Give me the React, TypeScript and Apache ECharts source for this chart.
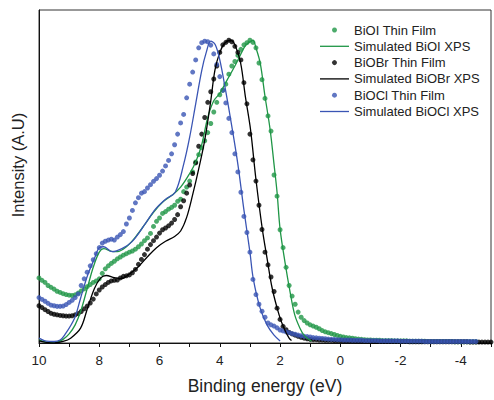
import React, { useEffect, useRef } from "react";
import * as echarts from "echarts";

// Binding energy grid of the measured thin-film spectra (eV)
const energies = [
  10.0, 9.9, 9.8, 9.7, 9.6, 9.5, 9.4, 9.3, 9.2, 9.1,
  9.0, 8.9, 8.8, 8.7, 8.6, 8.5, 8.4, 8.3, 8.2, 8.1,
  8.0, 7.9, 7.8, 7.7, 7.6, 7.5, 7.4, 7.3, 7.2, 7.1,
  7.0, 6.9, 6.8, 6.7, 6.6, 6.5, 6.4, 6.3, 6.2, 6.1,
  6.0, 5.9, 5.8, 5.7, 5.6, 5.5, 5.4, 5.3, 5.2, 5.1,
  5.0, 4.9, 4.8, 4.7, 4.6, 4.5, 4.4, 4.3, 4.2, 4.1,
  4.0, 3.9, 3.8, 3.7, 3.6, 3.5, 3.4, 3.3, 3.2, 3.1,
  3.0, 2.9, 2.8, 2.7, 2.6, 2.5, 2.4, 2.3, 2.2, 2.1,
  2.0, 1.9, 1.8, 1.7, 1.6, 1.5, 1.4, 1.3, 1.2, 1.1,
  1.0, 0.9, 0.8, 0.7, 0.6, 0.5, 0.4, 0.3, 0.2, 0.1,
  0.0, -0.1, -0.2, -0.3, -0.4, -0.5, -0.6, -0.7, -0.8, -0.9,
  -1.0, -1.1, -1.2, -1.3, -1.4, -1.5, -1.6, -1.7, -1.8, -1.9,
  -2.0, -2.1, -2.2, -2.3, -2.4, -2.5, -2.6, -2.7, -2.8, -2.9,
  -3.0, -3.1, -3.2, -3.3, -3.4, -3.5, -3.6, -3.7, -3.8, -3.9,
  -4.0, -4.1, -4.2, -4.3, -4.4, -4.5, -4.6, -4.7, -4.8, -4.9,
  -5.0,
];

// BiOI thin film (normalised intensity)
const bioiFilm = [
  0.215, 0.207, 0.2, 0.19, 0.184, 0.178, 0.171, 0.167, 0.163, 0.16,
  0.158, 0.157, 0.159, 0.165, 0.172, 0.179, 0.186, 0.193, 0.2, 0.205,
  0.212, 0.23, 0.245, 0.255, 0.263, 0.27, 0.278, 0.284, 0.29, 0.295,
  0.3, 0.304, 0.31, 0.318, 0.327, 0.338, 0.347, 0.362, 0.385, 0.402,
  0.413, 0.428, 0.434, 0.442, 0.448, 0.455, 0.468, 0.475, 0.5, 0.515,
  0.535, 0.565, 0.598, 0.622, 0.645, 0.668, 0.695, 0.725, 0.763, 0.795,
  0.82, 0.835, 0.855, 0.888, 0.915, 0.93, 0.95, 0.97, 0.985, 0.992,
  1.0, 0.993, 0.975, 0.925, 0.87, 0.808, 0.75, 0.7, 0.555, 0.485,
  0.374, 0.315, 0.25, 0.19, 0.155, 0.128, 0.102, 0.085, 0.074, 0.066,
  0.06, 0.056, 0.052, 0.047, 0.041, 0.037, 0.034, 0.031, 0.028, 0.025,
  0.022, 0.02, 0.018, 0.017, 0.016, 0.014, 0.013, 0.012, 0.011, 0.01,
  0.01, 0.009, 0.009, 0.009, 0.008, 0.008, 0.008, 0.008, 0.007, 0.007,
  0.007, 0.007, 0.007, 0.006, 0.006, 0.006, 0.006, 0.006, 0.006, 0.005,
  0.005, 0.005, 0.005, 0.005, 0.005, 0.005, 0.005, 0.005, 0.004, 0.004,
  0.004, 0.004, 0.004, 0.004, 0.004, 0.004,
];

// BiOBr thin film
const biobrFilm = [
  0.123, 0.117, 0.11, 0.104, 0.098, 0.095, 0.093, 0.091, 0.09, 0.089,
  0.089, 0.09, 0.093, 0.097, 0.104, 0.113, 0.122, 0.132, 0.145, 0.162,
  0.175, 0.185, 0.193, 0.2, 0.205, 0.207, 0.208, 0.215, 0.22, 0.222,
  0.225, 0.232, 0.243, 0.26, 0.276, 0.292, 0.31, 0.325, 0.338, 0.35,
  0.363, 0.374, 0.38, 0.387, 0.396, 0.408, 0.424, 0.45, 0.47, 0.495,
  0.522, 0.56, 0.595, 0.65, 0.69, 0.745, 0.795, 0.83, 0.872, 0.915,
  0.96, 0.985, 0.993, 1.0, 0.995, 0.98, 0.96, 0.935, 0.86, 0.79,
  0.69, 0.605, 0.535, 0.455, 0.375, 0.3, 0.258, 0.218, 0.17, 0.115,
  0.078, 0.055, 0.044, 0.035, 0.03, 0.026, 0.022, 0.019, 0.016, 0.014,
  0.012, 0.011, 0.011, 0.01, 0.01, 0.009, 0.009, 0.009, 0.008, 0.008,
  0.008, 0.007, 0.007, 0.007, 0.007, 0.006, 0.006, 0.006, 0.006, 0.006,
  0.006, 0.005, 0.005, 0.005, 0.005, 0.005, 0.005, 0.005, 0.005, 0.005,
  0.005, 0.005, 0.005, 0.004, 0.004, 0.004, 0.004, 0.004, 0.004, 0.004,
  0.004, 0.004, 0.004, 0.004, 0.004, 0.004, 0.004, 0.004, 0.004, 0.004,
  0.004, 0.004, 0.004, 0.003, 0.003, 0.003, 0.003, 0.003, 0.003, 0.003,
  0.003,
];

// BiOCl thin film
const bioclFilm = [
  0.15, 0.144, 0.138, 0.131, 0.125, 0.123, 0.121, 0.121, 0.122, 0.127,
  0.134, 0.141, 0.15, 0.162, 0.19, 0.212, 0.234, 0.255, 0.275, 0.295,
  0.315, 0.33, 0.336, 0.34, 0.343, 0.34, 0.35, 0.358, 0.368, 0.393,
  0.413, 0.438, 0.463, 0.48, 0.495, 0.5, 0.512, 0.523, 0.534, 0.543,
  0.554, 0.568, 0.585, 0.603, 0.625, 0.655, 0.69, 0.727, 0.755, 0.81,
  0.855, 0.895, 0.935, 0.975, 0.992, 0.997, 0.995, 0.984, 0.955, 0.92,
  0.88, 0.835, 0.793, 0.742, 0.695, 0.625, 0.565, 0.498, 0.418, 0.365,
  0.3, 0.21, 0.16, 0.128, 0.105, 0.085, 0.066, 0.06, 0.056, 0.05,
  0.043, 0.04, 0.037, 0.034, 0.031, 0.029, 0.026, 0.024, 0.022, 0.021,
  0.02, 0.018, 0.017, 0.016, 0.015, 0.014, 0.013, 0.012, 0.012, 0.011,
  0.011, 0.01, 0.01, 0.01, 0.009, 0.009, 0.009, 0.009, 0.008, 0.008,
  0.008, 0.008, 0.008, 0.007, 0.007, 0.007, 0.007, 0.007, 0.007, 0.007,
  0.006, 0.006, 0.006, 0.006, 0.006, 0.006, 0.006, 0.006, 0.005, 0.005,
  0.005, 0.005, 0.005, 0.005, 0.005, 0.005, 0.005, 0.005, 0.005, 0.005,
  0.005, 0.005, 0.005, 0.005, 0.005, 0.005,
];

// Simulated XPS valence band spectra [energy, intensity]
const simBiOI = [
  [10.0, 0.01], [9.8, 0.004], [9.6, 0.002], [9.4, 0.004], [9.2, 0.012],
  [9.0, 0.03], [8.8, 0.06], [8.6, 0.11], [8.4, 0.18], [8.2, 0.25],
  [8.0, 0.3], [7.85, 0.312], [7.6, 0.303], [7.4, 0.302], [7.1, 0.318],
  [6.8, 0.35], [6.5, 0.39], [6.2, 0.432], [5.9, 0.465], [5.6, 0.487],
  [5.3, 0.515], [5.0, 0.56], [4.8, 0.598], [4.6, 0.655], [4.4, 0.745],
  [4.2, 0.8], [4.0, 0.825], [3.75, 0.87], [3.5, 0.915], [3.3, 0.955],
  [3.15, 0.982], [3.0, 0.995], [2.9, 1.0], [2.8, 0.975], [2.66, 0.925],
  [2.5, 0.815], [2.33, 0.705], [2.2, 0.59], [2.1, 0.498], [2.0, 0.377],
  [1.84, 0.269], [1.67, 0.17], [1.51, 0.092], [1.34, 0.049], [1.2, 0.025],
  [1.02, 0.01], [0.95, 0.006],
];

const simBiOBr = [
  [10.0, 0.007], [9.75, 0.002], [9.5, 0.0], [9.2, 0.005], [8.95, 0.016],
  [8.62, 0.049], [8.39, 0.115], [8.16, 0.18], [7.95, 0.215], [7.77, 0.223],
  [7.5, 0.216], [7.25, 0.213], [7.0, 0.228], [6.7, 0.252], [6.4, 0.285],
  [6.1, 0.315], [5.8, 0.336], [5.5, 0.352], [5.3, 0.37], [5.1, 0.415],
  [4.9, 0.49], [4.7, 0.575], [4.5, 0.67], [4.3, 0.8], [4.16, 0.902],
  [4.0, 0.96], [3.84, 0.99], [3.65, 1.0], [3.5, 0.985], [3.31, 0.925],
  [3.15, 0.813], [2.98, 0.705], [2.8, 0.54], [2.59, 0.377], [2.43, 0.279],
  [2.26, 0.18], [2.03, 0.092], [1.87, 0.049], [1.7, 0.016], [1.62, 0.008],
];

const simBiOCl = [
  [10.0, 0.016], [9.75, 0.006], [9.5, 0.005], [9.3, 0.01], [9.15, 0.026],
  [8.82, 0.082], [8.62, 0.148], [8.39, 0.223], [8.16, 0.279], [8.0, 0.315],
  [7.85, 0.318], [7.57, 0.302], [7.25, 0.312], [6.92, 0.334], [6.5, 0.39],
  [6.13, 0.443], [5.8, 0.475], [5.48, 0.498], [5.2, 0.59], [5.0, 0.68],
  [4.8, 0.79], [4.6, 0.9], [4.45, 0.96], [4.3, 0.997], [4.15, 0.985],
  [4.0, 0.935], [3.8, 0.83], [3.6, 0.715], [3.4, 0.59], [3.2, 0.44],
  [3.0, 0.3], [2.89, 0.213], [2.66, 0.115], [2.43, 0.059], [2.2, 0.026],
  [2.0, 0.007],
];

const xTickLabels = ["10", "8", "6", "4", "2", "0", "-2", "-4"];

const GREEN = "#1f9646";
const BLACK = "#000000";
const BLUE = "#3a55b4";
const FONT = "'Liberation Sans', Arial, sans-serif";
const LINE_ICON = "path://M0 0H29V1.3H0Z";

const pair = (ys: number[]) => ys.map((y, i) => [energies[i], y]);

export default function App() {
  const ref = useRef<HTMLDivElement>(null);

  useEffect(() => {
    if (!ref.current) return;
    const chart = echarts.init(ref.current, null, { renderer: "svg" });
    const dot = (name: string, data: number[], color: string) => ({
      name,
      type: "scatter",
      data: pair(data),
      symbol: "circle",
      symbolSize: 5,
      itemStyle: { color },
    });
    const sim = (name: string, data: number[][], color: string) => ({
      name,
      type: "line",
      data,
      smooth: 0.35,
      symbol: "none",
      showSymbol: false,
      lineStyle: { color, width: 1.3 },
      itemStyle: { color },
    });
    chart.setOption({
      animation: false,
      backgroundColor: "#ffffff",
      textStyle: { fontFamily: FONT },
      grid: {
        left: 39,
        top: 10,
        right: -2,
        bottom: 55,
        show: true,
        borderColor: "#333",
        borderWidth: 1,
        backgroundColor: "transparent",
      },
      legend: {
        orient: "vertical",
        left: 320,
        top: 23,
        padding: 0,
        itemWidth: 29,
        itemHeight: 5,
        itemGap: 2.3,
        textStyle: { fontSize: 13, color: "#222", fontFamily: FONT, lineHeight: 14 },
        data: [
          { name: "BiOI Thin Film", icon: "circle" },
          { name: "Simulated BiOI XPS", icon: LINE_ICON },
          { name: "BiOBr Thin Film", icon: "circle" },
          { name: "Simulated BiOBr XPS", icon: LINE_ICON },
          { name: "BiOCl Thin Film", icon: "circle" },
          { name: "Simulated BiOCl XPS", icon: LINE_ICON },
        ],
      },
      xAxis: {
        type: "value",
        inverse: true,
        min: -5,
        max: 10,
        interval: 1,
        name: "Binding energy (eV)",
        nameLocation: "middle",
        nameGap: 34,
        nameTextStyle: { fontSize: 17.5, color: "#222", fontFamily: FONT },
        axisLine: { show: true, onZero: false, lineStyle: { color: "#111", width: 1 } },
        axisTick: { show: true, inside: false, length: 4, lineStyle: { color: "#111" } },
        axisLabel: {
          margin: 10,
          fontSize: 13.5,
          color: "#222",
          fontFamily: FONT,
          formatter: (v: number) => {
            const s = String(v);
            return xTickLabels.includes(s) ? s : "";
          },
        },
        splitLine: { show: false },
      },
      yAxis: {
        type: "value",
        position: "left",
        min: 0,
        max: 1.1,
        axisLine: { show: true, onZero: false, lineStyle: { color: "#111", width: 1 } },
        axisTick: { show: false },
        axisLabel: { show: false },
        splitLine: { show: false },
      },
      graphic: [
        {
          type: "text",
          x: 18,
          y: 165,
          rotation: Math.PI / 2,
          style: {
            text: "Intensity (A.U)",
            fontSize: 16.5,
            fontFamily: FONT,
            fill: "#222",
            align: "center",
            verticalAlign: "middle",
          },
        },
      ],
      series: [
        dot("BiOI Thin Film", bioiFilm, GREEN),
        sim("Simulated BiOI XPS", simBiOI, GREEN),
        dot("BiOBr Thin Film", biobrFilm, BLACK),
        sim("Simulated BiOBr XPS", simBiOBr, BLACK),
        dot("BiOCl Thin Film", bioclFilm, BLUE),
        sim("Simulated BiOCl XPS", simBiOCl, BLUE),
      ],
    });
    return () => chart.dispose();
  }, []);

  return (
    <div
      ref={ref}
      style={{ position: "fixed", left: 0, top: 0, width: 494, height: 400, background: "#fff" }}
    />
  );
}
